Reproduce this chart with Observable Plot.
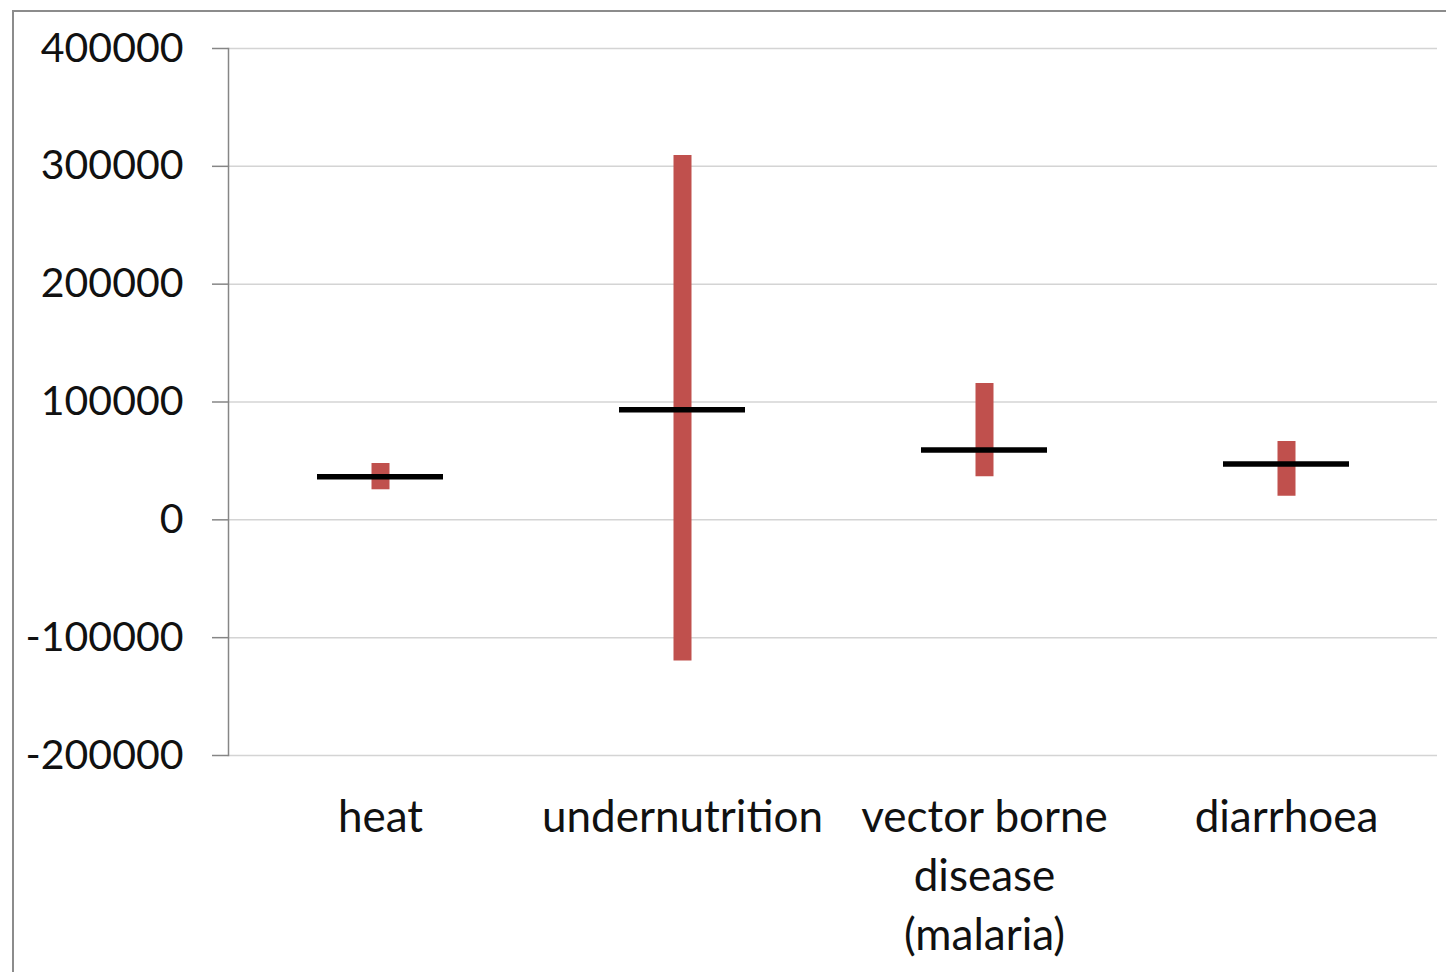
<!DOCTYPE html>
<html>
<head>
<meta charset="utf-8">
<script src="https://cdn.jsdelivr.net/npm/d3@7"></script>
<script src="https://cdn.jsdelivr.net/npm/@observablehq/plot@0.6"></script>
<style>
  html, body { margin: 0; padding: 0; background: #fff; }
  #wrap { position: relative; width: 1446px; height: 972px; overflow: hidden; }
  #border { position: absolute; left: 12px; top: 10px; width: 1460px; height: 1000px;
            border-left: 2px solid #8c8c8c; border-top: 2px solid #8c8c8c; }
  #chart { position: absolute; left: 0; top: 0; }
</style>
</head>
<body>
<div id="wrap"><div id="border"></div><div id="chart"></div></div>
<script>
const categories = ["heat", "undernutrition", "vector borne\ndisease\n(malaria)", "diarrhoea"];
const lowValues  = [25500, -119700, 36500, 20100];
const highValues = [47800, 309100, 115700, 66500];
const midValues  = [36500, 93400, 59200, 47300];
const yTicks = [-200000, -100000, 0, 100000, 200000, 300000, 400000];

const data = categories.map((c, i) => ({cat: c, low: lowValues[i], high: highValues[i], mid: midValues[i]}));

const chart = Plot.plot({
  width: 1446,
  height: 972,
  marginLeft: 228,
  marginRight: 9,
  marginTop: 48,
  marginBottom: 217,
  style: {fontFamily: "Lato", background: "transparent", color: "#111"},
  x: {domain: categories, padding: 0},
  y: {domain: [-200000, 400000]},
  marks: [
    Plot.gridY(yTicks, {stroke: "#d4d4d4", strokeOpacity: 1, strokeWidth: 1.5}),
    Plot.frame({anchor: "left", stroke: "#868686", strokeWidth: 1.5}),
    Plot.axisY(yTicks, {tickSize: 16, tickPadding: 29, tickFormat: d => String(d), fontSize: 41, stroke: "#868686", strokeWidth: 1.5, label: null}),
    Plot.axisX({tickSize: 0, tickPadding: 35, fontSize: 44, lineHeight: 1.34, label: null}),
    Plot.ruleX(data, {x: "cat", y1: "low", y2: "high", stroke: "#c0504d", strokeWidth: 18}),
    Plot.tickY(data, {x: "cat", y: "mid", stroke: "#000", strokeWidth: 5.5, inset: 88})
  ]
});
document.getElementById("chart").appendChild(chart);
</script>
</body>
</html>
